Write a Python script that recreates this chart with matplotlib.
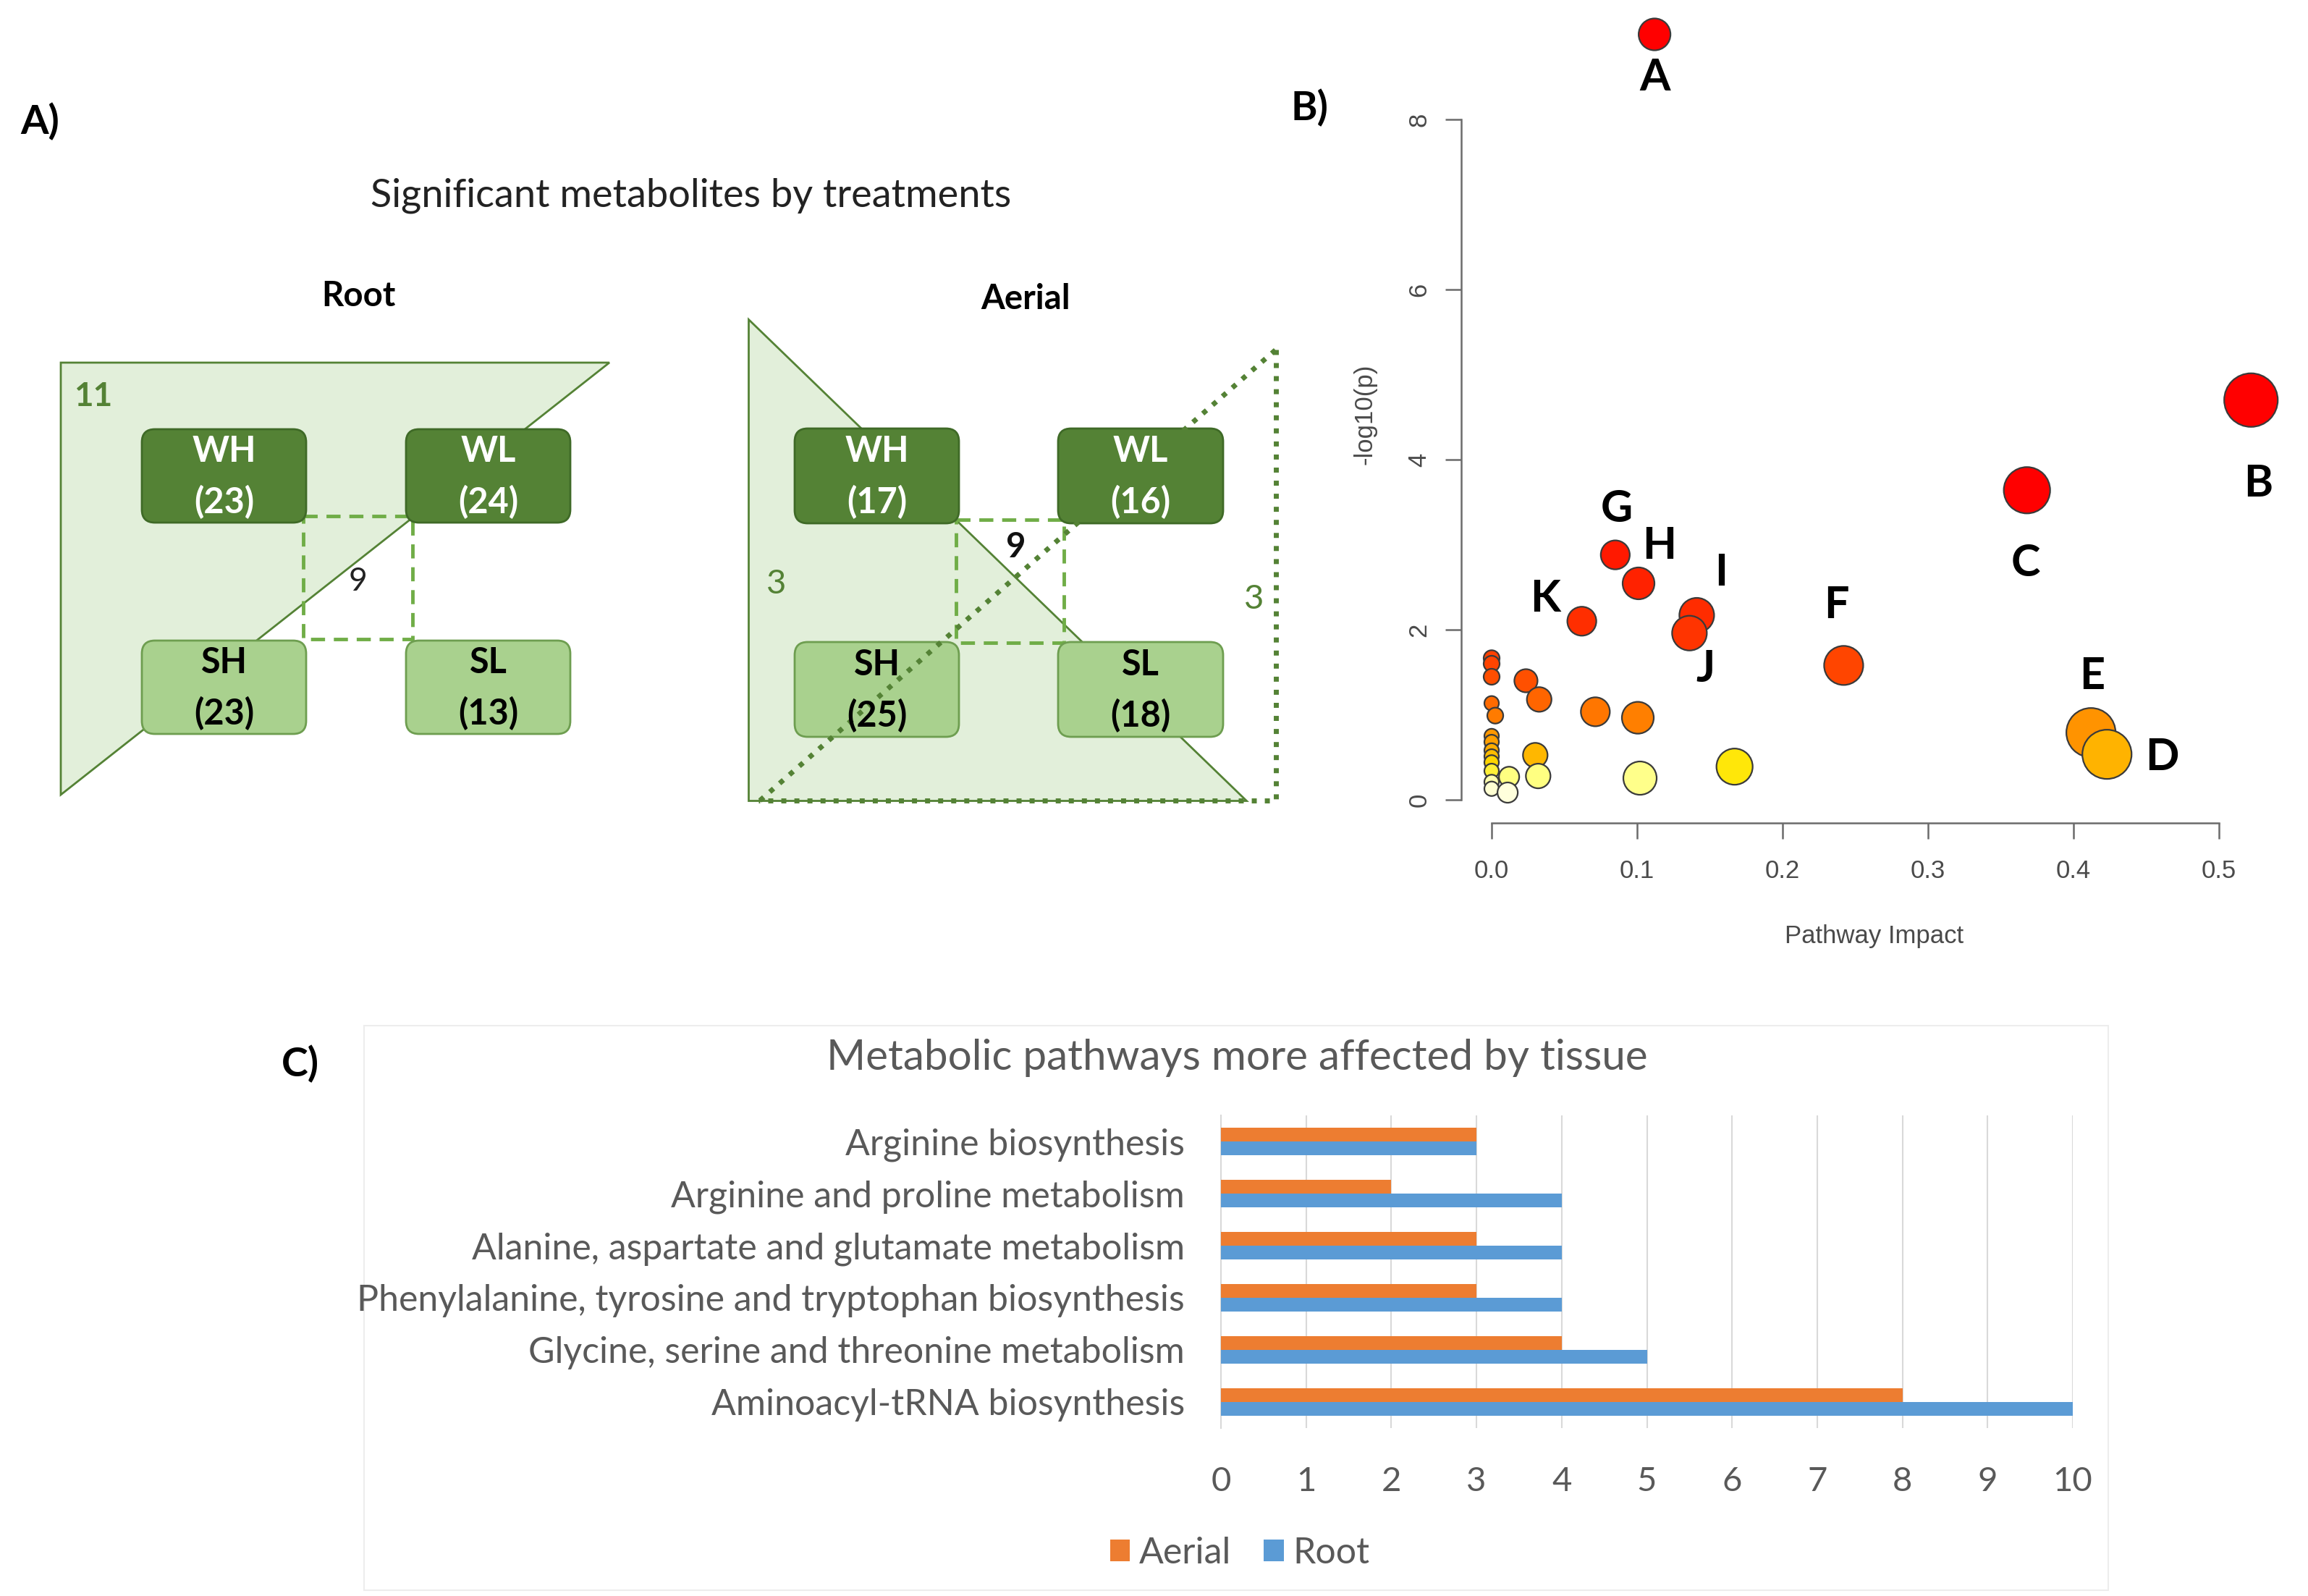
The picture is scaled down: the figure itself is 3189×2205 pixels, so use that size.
import matplotlib
matplotlib.use('Agg')
import matplotlib.pyplot as plt
from matplotlib.patches import Polygon, FancyBboxPatch, Rectangle
from matplotlib.colors import LinearSegmentedColormap, Normalize
import numpy as np

W, H, DPI = 3189, 2205, 100

# ---------------- Panel A data ----------------
groups = ['WH', 'WL', 'SH', 'SL']
root_counts = [23, 24, 23, 13]
aerial_counts = [17, 16, 25, 18]
root_shared = 9
root_exclusive = 11
aerial_shared = 9
aerial_left = 3
aerial_right = 3

# ---------------- Panel B data ----------------
path_impact = [0.112, 0.522, 0.368, 0.412, 0.423, 0.242, 0.085, 0.101, 0.141, 0.136, 0.062,
               0.0, 0.0, 0.0, 0.0, 0.0025, 0.0, 0.0, 0.0, 0.0, 0.0, 0.0, 0.0, 0.0,
               0.012, 0.011, 0.0236, 0.0327, 0.030, 0.032, 0.0713, 0.1005, 0.102, 0.167]
path_logp = [9.00, 4.70, 3.64, 0.79, 0.535, 1.58, 2.88, 2.545, 2.17, 1.96, 2.10,
             1.665, 1.60, 1.447, 1.135, 0.99, 0.75, 0.68, 0.58, 0.51, 0.44, 0.34, 0.21, 0.13,
             0.27, 0.085, 1.40, 1.18, 0.525, 0.28, 1.035, 0.965, 0.255, 0.39]
path_node = [22, 37, 32, 34, 34, 27, 20, 22, 24, 24, 20,
             11, 11, 11, 10, 11, 10, 10, 10, 10, 10, 10, 10, 10,
             14, 14, 16, 17, 17, 17, 20, 22, 23, 25]
path_labels = ['A', 'B', 'C', 'E', 'D', 'F', 'G', 'H', 'I', 'J', 'K'] + [''] * 23

# ---------------- Panel C data ----------------
pathways = ['Arginine biosynthesis', 'Arginine and proline metabolism',
            'Alanine, aspartate and glutamate metabolism',
            'Phenylalanine, tyrosine and tryptophan biosynthesis',
            'Glycine, serine and threonine metabolism', 'Aminoacyl-tRNA biosynthesis']
aerial_vals = [3, 2, 3, 3, 4, 8]
root_vals = [3, 4, 4, 4, 5, 10]
c_ticks = list(range(0, 11))

FONT = 'Lato'
plt.rcParams['font.family'] = [FONT, 'DejaVu Sans']

fig = plt.figure(figsize=(W / DPI, H / DPI), dpi=DPI)
fig.patch.set_facecolor('white')


def px_rect(l, t, r, b):
    return [l / W, 1 - b / H, (r - l) / W, (b - t) / H]


# canvas in pixel coordinates
cv = fig.add_axes([0, 0, 1, 1])
cv.set_xlim(0, W)
cv.set_ylim(H, 0)
cv.axis('off')

DARK = '#548235'
DARK_EDGE = '#3F6A27'
LIGHT = '#A9D18E'
LIGHT_EDGE = '#6E9E50'
TRI = '#E2EFDA'
DASH = '#70AD47'

# panel letters
cv.text(55, 168, 'A)', fontsize=40, fontweight='bold', ha='center', va='center')
cv.text(1809, 149, 'B)', fontsize=40, fontweight='bold', ha='center', va='center')
cv.text(415, 1470, 'C)', fontsize=40, fontweight='bold', ha='center', va='center')

cv.text(955, 270, 'Significant metabolites by treatments', fontsize=39, ha='center', va='center', color='#222222')
cv.text(495, 409, 'Root', fontsize=34, fontweight='bold', ha='center', va='center')
cv.text(1417, 413, 'Aerial', fontsize=34, fontweight='bold', ha='center', va='center')


def box(x0, y0, x1, y1, label, count, dark):
    fc = DARK if dark else LIGHT
    ec = DARK_EDGE if dark else LIGHT_EDGE
    tc = 'white' if dark else 'black'
    p = FancyBboxPatch((x0, y0), x1 - x0, y1 - y0, boxstyle='round,pad=0,rounding_size=18',
                       fc=fc, ec=ec, lw=2, zorder=3)
    cv.add_patch(p)
    cx = (x0 + x1) / 2
    cy = (y0 + y1) / 2
    cv.text(cx, cy - 34, label, fontsize=35, fontweight='bold', color=tc, ha='center', va='center', zorder=4)
    cv.text(cx, cy + 36, '(%d)' % count, fontsize=35, fontweight='bold', color=tc, ha='center', va='center', zorder=4)


DOT = dict(color=DARK, lw=5, ls=(0, (1, 1.6)), dash_capstyle='butt')

# Root diagram
cv.add_patch(Polygon([(84, 501), (842, 501), (84, 1098)], closed=True, fc=TRI, ec=DARK, lw=2, zorder=1))
cv.text(129, 548, str(root_exclusive), fontsize=33, fontweight='bold', color=DARK, ha='center', va='center')
rx = [(196, 423), (561, 788)]
ry = [(593, 722), (885, 1014)]
box(rx[0][0], ry[0][0], rx[0][1], ry[0][1], groups[0], root_counts[0], True)
box(rx[1][0], ry[0][0], rx[1][1], ry[0][1], groups[1], root_counts[1], True)
box(rx[0][0], ry[1][0], rx[0][1], ry[1][1], groups[2], root_counts[2], False)
box(rx[1][0], ry[1][0], rx[1][1], ry[1][1], groups[3], root_counts[3], False)
cv.add_patch(Rectangle((419, 713), 151, 170, fill=False, ec=DASH, lw=3.5, ls=(0, (4, 2.5)), zorder=2))
cv.text(495, 803, str(root_shared), fontsize=32, color='#222222', ha='center', va='center', zorder=5)

# Aerial diagram
cv.add_patch(Polygon([(1034, 441), (1034, 1106), (1722, 1106)], closed=True, fc=TRI, ec=DARK, lw=2, zorder=1))
cv.plot([1763, 1763, 1048], [483, 1106, 1106], zorder=2.5, **DOT)
ax_ = [(1098, 1325), (1462, 1690)]
ay_ = [(592, 723), (887, 1018)]
box(ax_[0][0], ay_[0][0], ax_[0][1], ay_[0][1], groups[0], aerial_counts[0], True)
box(ax_[1][0], ay_[0][0], ax_[1][1], ay_[0][1], groups[1], aerial_counts[1], True)
box(ax_[0][0], ay_[1][0], ax_[0][1], ay_[1][1], groups[2], aerial_counts[2], False)
box(ax_[1][0], ay_[1][0], ax_[1][1], ay_[1][1], groups[3], aerial_counts[3], False)
cv.plot([1050, 1763], [1106, 483], zorder=3.5, **DOT)
cv.add_patch(Rectangle((1321, 718), 149, 170, fill=False, ec=DASH, lw=3.5, ls=(0, (4, 2.5)), zorder=2))
cv.text(1404, 756, str(aerial_shared), fontsize=34, fontweight='bold', color='#111111', ha='center', va='center', zorder=5)
cv.text(1073, 807, str(aerial_left), fontsize=34, color=DARK, ha='center', va='center')
cv.text(1733, 828, str(aerial_right), fontsize=34, color=DARK, ha='center', va='center')

# ---------------- Panel B ----------------
bx = fig.add_axes(px_rect(1990, 20, 3140, 1150))
bx.patch.set_alpha(0)
x_at = lambda px: (px - 2061) / 2010.0
y_at = lambda py: (1105 - py) / 117.5
bx.set_xlim(x_at(1990), x_at(3140))
bx.set_ylim(y_at(1150), y_at(20))

stops = [0.0, 0.15, 0.27, 0.39, 0.53, 0.68, 0.8, 1.0, 1.18, 1.4, 1.6, 2.1, 2.9, 3.6]
cols = ['#FFFFF0', '#FFFFCC', '#FFFF80', '#FFE500', '#FFB400', '#FFA000', '#FF9200', '#FF7A00',
        '#FF6400', '#FF5000', '#FF4400', '#FF2E00', '#FF1800', '#FF0000']
cmap = LinearSegmentedColormap.from_list('heat', list(zip([s / 3.6 for s in stops], cols)))
sizes = [(1.44 * r) ** 2 for r in path_node]
bx.scatter(path_impact, path_logp, s=sizes, c=path_logp, cmap=cmap, norm=Normalize(0, 3.6),
           edgecolors='#3a3a3a', linewidths=1.6, zorder=3, clip_on=False)

lab_pos = {'A': (0.112, 8.49), 'B': (0.527, 3.72), 'C': (0.367, 2.78), 'D': (0.461, 0.50),
           'E': (0.413, 1.455), 'F': (0.237, 2.29), 'G': (0.086, 3.42), 'H': (0.115, 2.99),
           'I': (0.158, 2.67), 'J': (0.147, 1.54), 'K': (0.037, 2.37)}
for lab in path_labels:
    if lab:
        x, y = lab_pos[lab]
        bx.text(x, y, lab, fontsize=44, fontweight='bold', ha='center', va='center', zorder=5)

for s in ['top', 'right']:
    bx.spines[s].set_visible(False)
bx.spines['left'].set_position(('data', x_at(2019)))
bx.spines['bottom'].set_position(('data', y_at(1137)))
bx.spines['left'].set_bounds(0, 8)
bx.spines['bottom'].set_bounds(0, 0.5)
for s in ['left', 'bottom']:
    bx.spines[s].set_color('#6b6b6b')
    bx.spines[s].set_linewidth(1.8)
bx.set_yticks([0, 2, 4, 6, 8])
bx.set_xticks([0.0, 0.1, 0.2, 0.3, 0.4, 0.5])
bx.set_xticklabels(['0.0', '0.1', '0.2', '0.3', '0.4', '0.5'], family='Liberation Sans')
bx.set_yticklabels(['0', '2', '4', '6', '8'], rotation=90, va='center', family='Liberation Sans')
bx.tick_params(axis='both', length=16, width=1.8, color='#6b6b6b', labelsize=25, labelcolor='#4a4a4a')
bx.tick_params(axis='x', pad=20)
bx.tick_params(axis='y', pad=14)
cv.text(1886, 572, '-log10(p)', rotation=90, fontsize=25, family='Liberation Sans', color='#4a4a4a',
        ha='center', va='center')
cv.text(2590, 1294, 'Pathway Impact', fontsize=25, family='Liberation Sans', color='#4a4a4a',
        ha='center', va='center')

# ---------------- Panel C ----------------
cv.add_patch(Rectangle((503, 1417), 2410, 780, fill=False, ec='#EDEDED', lw=1.5))
cv.text(1709, 1462, 'Metabolic pathways more affected by tissue', fontsize=42, color='#595959',
        ha='center', va='center')

cx_ = fig.add_axes(px_rect(1687, 1541, 2864, 1973))
cx_.patch.set_alpha(0)
ypos = np.arange(len(pathways))
bh = 0.27
b1 = cx_.barh(ypos - bh / 2, aerial_vals, height=bh, color='#ED7D31', label='Aerial', zorder=3)
b2 = cx_.barh(ypos + bh / 2, root_vals, height=bh, color='#5B9BD5', label='Root', zorder=3)
cx_.set_ylim(len(pathways) - 0.5, -0.5)
cx_.set_xlim(0, 10)
cx_.set_xticks(c_ticks)
cx_.set_yticks(ypos)
cx_.set_yticklabels(pathways)
cx_.xaxis.grid(True, color='#D9D9D9', lw=1.5, zorder=0)
cx_.set_axisbelow(True)
for s in ['top', 'right', 'bottom']:
    cx_.spines[s].set_visible(False)
cx_.spines['left'].set_color('#D9D9D9')
cx_.spines['left'].set_linewidth(1.5)
cx_.tick_params(axis='y', length=0, pad=36, labelsize=36, labelcolor='#595959')
cx_.tick_params(axis='x', length=0, pad=38, labelsize=34, labelcolor='#595959')

fig.legend(handles=[b1, b2], labels=['Aerial', 'Root'], loc='center',
           bbox_to_anchor=(1713 / W, 1 - 2146 / H), ncol=2, frameon=False, fontsize=36,
           handlelength=0.55, handleheight=0.55, handletextpad=0.25, columnspacing=0.9,
           labelcolor='#595959')

fig.savefig('out.png', dpi=DPI, facecolor='white')
